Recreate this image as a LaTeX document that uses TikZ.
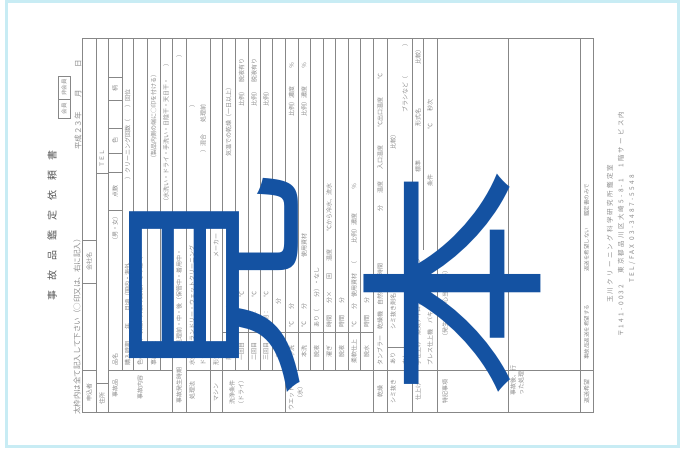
\documentclass[tikz,border=0pt]{standalone}
\usepackage{graphicx}
\usepackage{fontspec}
\newfontfamily\jp{Noto Sans CJK JP}
\newfontfamily\jpw{Noto Sans CJK JP}[LetterSpace=35]
\definecolor{wmc}{RGB}{20,82,162}
\definecolor{framec}{RGB}{200,236,244}
\definecolor{lnc}{RGB}{135,135,135}
\definecolor{txc}{RGB}{140,140,140}
\newcounter{tn}
\newcommand\vt[4][]{\stepcounter{tn}\node[txt,#1] (t\arabic{tn}) at (#2,#3) {#4};}
\begin{document}
\begin{tikzpicture}[x=1pt,y=-1pt,
  txt/.style={font=\jp\fontsize{6}{6}\selectfont, text=txc, rotate=90, anchor=west, inner sep=0pt},
  lbl/.style={anchor=center},
  rl/.style={draw=lnc, line width=0.6pt},
  wm/.style={font=\jp\fontsize{232}{232}\selectfont, text=wmc, rotate=90, inner sep=0pt}]
\useasboundingbox (0,0) rectangle (684,448);
\fill[white] (0,0) rectangle (684,448);
\draw[framec, line width=3pt] (6,1.5) rectangle (678.5,446.5);
% form grid
\foreach \x in {96,108,172,186,210,222,285,373,387,412,437,508,580}
  \draw[rl] (\x,38) -- (\x,412);
\foreach \x in {122,133,147,160,235,248,260,272,298,310,323,335,348,360}
  \draw[rl] (\x,38) -- (\x,370);
\draw[draw=lnc, line width=0.9pt] (82,38) rectangle (593,412);
\draw[rl] (82,370) -- (96,370) (96,383) -- (108,383) (108,370) -- (172,370)
  (172,350) -- (186,350) (186,370) -- (593,370);
\draw[rl] (222,332) -- (373,332);
\draw[rl] (387,347) -- (412,347);
\draw[rl] (423,38) -- (423,250);
\draw[rl] (82,240) -- (96,240) (82,283) -- (96,283);
\draw[rl] (96,173) -- (108,173);
\foreach \y in {77,100,128,153,172,210} \draw[rl] (108,\y) -- (122,\y);
% header outside the form
\node[font=\jp\fontsize{10}{10}\selectfont, text=black!65, rotate=90, inner sep=0pt] (title) at (52,225) {事　故　品　鑑　定　依　頼　書};
\node[draw=lnc, line width=0.5pt, minimum width=19pt, minimum height=12pt, rotate=90, inner sep=0pt, font=\jp\fontsize{5.5}{5.5}\selectfont, text=txc] (kai) at (64,108.5) {会員};
\node[draw=lnc, line width=0.5pt, minimum width=23pt, minimum height=12pt, rotate=90, inner sep=0pt, font=\jp\fontsize{5.5}{5.5}\selectfont, text=txc] (hikai) at (64,87.5) {非会員};
\vt[font=\jp\fontsize{7.5}{7.5}\selectfont]{78}{150}{平成２３年　　月　　　日}
\vt[font=\jp\fontsize{7.5}{7.5}\selectfont]{77}{415}{太枠内は全て記入して下さい（○印又は、右に記入）}
% group labels
\vt[lbl]{89}{392}{申込者}
\vt[lbl]{102}{398}{住所}
\vt[lbl]{115}{388}{事故品}
\vt[lbl]{140}{387}{事故内容}
\vt[lbl]{179}{385}{事故発生時期}
\vt[lbl]{192}{390}{処理法}
\vt[lbl]{216}{392}{マシン}
\vt[lbl]{232}{392}{洗浄条件}
\vt[lbl]{241}{392}{（ドライ）}
\vt[lbl]{291}{392}{ウエット条件}
\vt[lbl]{300}{392}{（水）}
\vt[lbl]{380}{391}{乾燥}
\vt[lbl]{393}{391}{シミ抜き}
\vt[lbl]{418}{391}{仕上げ}
\vt[lbl]{445}{391}{特記事項}
\vt{513}{396}{事故後、行}
\vt{521}{396}{った処理}
\vt[lbl]{586.5}{391}{返送希望}
% sub labels
\vt[lbl]{228.5}{351}{前処理}
\vt[lbl]{241.5}{351}{一回目}
\vt[lbl]{254}{351}{二回目}
\vt[lbl]{266}{351}{三回目}
\vt[lbl]{278.5}{351}{脱液}
\vt[lbl]{291.5}{351}{予洗}
\vt[lbl]{304}{351}{本洗}
\vt[lbl]{316.5}{351}{脱液}
\vt[lbl]{329}{351}{濯ぎ}
\vt[lbl]{341.5}{351}{脱液}
\vt[lbl]{354}{351}{柔軟仕上}
\vt[lbl]{366.5}{351}{脱水}
% row contents
\vt[lbl]{89}{261}{会社名}
\vt[lbl]{102}{158}{ＴＥＬ}
\vt[lbl]{115}{228}{（男・女）}
\vt[lbl]{115}{191}{点数}
\vt[lbl]{115}{140}{色}
\vt[lbl]{115}{88}{柄}
\vt{115}{366}{品名}
\vt{127.5}{366}{購入時期　　年　　月頃（国内・海外}
\vt{127.5}{180}{）クリーニング回数（　　）回位}
\vt{140}{366}{色の変化、収縮、外観の変化、その他（}
\vt{153.5}{366}{事故部位}
\vt{153.5}{162}{（製品内側の端に○印を付ける）}
\vt{166}{350}{位置・範囲}
\vt{166}{205}{（水洗い・ドライ・手洗い・日陰干・天日干・　　）}
\vt{179}{346}{処理前・中・後（保管中・着用中・}
\vt{179}{58}{）}
\vt{192}{366}{水処理（ランドリー・ウェットクリーニング}
\vt{192}{108}{）}
\vt{203}{366}{ドライ（石油系溶剤・パークロ・フッ素系}
\vt{203}{153}{）混合　　処理前}
\vt{216}{366}{形式}
\vt{216}{258}{メーカー}
\vt{228.5}{328}{あり・なし}
\vt{228.5}{157}{気温での乾燥（一日以上）}
\foreach \x in {241.5,254,266}{
  \vt{\x}{328}{溶剤：　　℃}
  \vt{\x}{270}{分}
}
\vt{241.5}{107}{比例）　脱液有り}
\vt{254}{107}{比例）　脱液有り}
\vt{266}{107}{比例）}
\vt{278.5}{305}{分}
\foreach \x in {291.5,304}{
  \vt{\x}{328}{℃　　分}
  \vt{\x}{258}{使用資材}
  \vt{\x}{117}{比例）濃度　　　％}
}
\vt{316.5}{328}{あり（　　分）・なし}
\vt{329}{328}{時間　　分×　　回　　温度　　　℃から冷水、流水}
\vt{341.5}{328}{時間　　分}
\vt{354}{328}{℃　　分　使用資材　（　　　比例）濃度　　　　％}
\vt{366.5}{328}{時間　　分}
\vt{380}{366}{タンブラー　乾燥機　自然乾燥　時間}
\vt{380}{212}{分　　温度　　入口温度　　　℃出口温度　　　℃}
\vt{393}{365}{あり}
\vt{405}{365}{なし}
\vt{393}{330}{シミ抜き剤名}
\vt{393}{150}{比較）}
\vt{405}{113}{ブラシなど（　　　　　）}
\vt{418}{366}{手仕上げ　蒸気アイロン・電気アイロン}
\vt{418}{173}{標準}
\vt{418}{127}{形式名}
\vt{418}{65}{比較）}
\vt{430}{366}{プレス仕上機　バキューム　他（}
\vt{430}{187}{条件}
\vt{430}{130}{℃　　秒次}
\vt{445}{340}{（発生状況、心当たり等）}
\vt[font=\jp\fontsize{5.5}{5.5}\selectfont]{586.5}{360}{事故品返送を希望する}
\vt[font=\jp\fontsize{5.5}{5.5}\selectfont]{586.5}{272}{返送を希望しない}
\vt[font=\jp\fontsize{5.5}{5.5}\selectfont]{586.5}{217}{鑑定書のみで}
% footer
\vt[font=\jpw\fontsize{6.5}{6.5}\selectfont]{610}{303}{玉川クリーニング科学研究所鑑定室}
\vt[font=\jpw\fontsize{6.5}{6.5}\selectfont]{621}{337}{〒141-0032　東京都品川区大崎5-8-1　1階サービス内}
\vt[font=\jpw\fontsize{6.5}{6.5}\selectfont]{632}{283}{TEL/FAX 03-3487-5548}
% watermark
\node[wm] (mi) at (215,285) {\scalebox{1}[0.83]{見}};
\node[wm] (hon) at (452,283) {\scalebox{1}[0.83]{本}};
\end{tikzpicture}
\end{document}
